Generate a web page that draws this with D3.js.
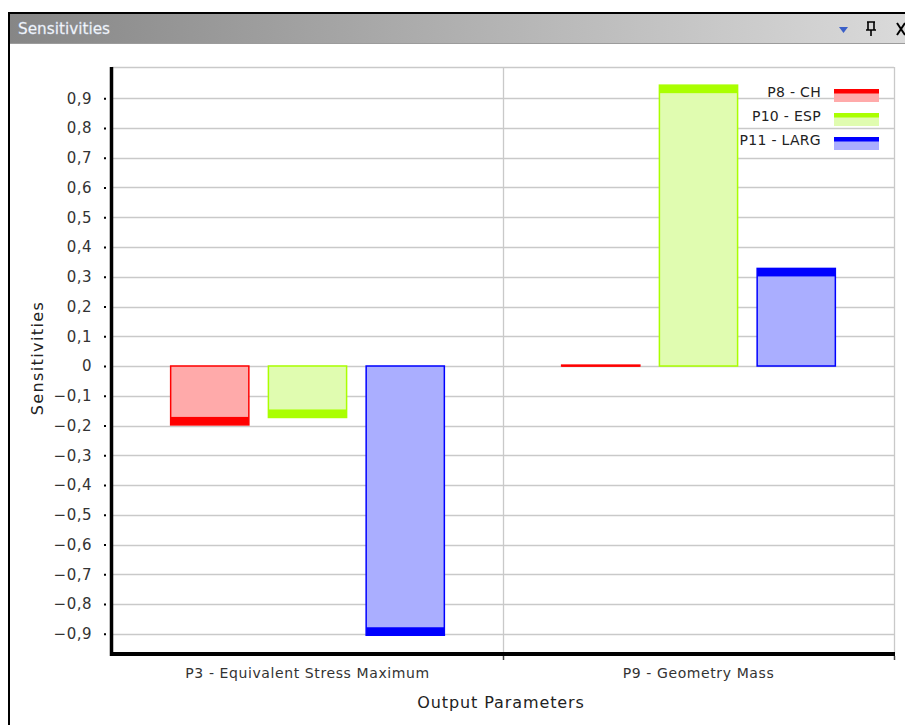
<!DOCTYPE html>
<html>
<head>
<meta charset="utf-8">
<script src="https://cdn.jsdelivr.net/npm/d3@7"></script>
<style>
  html, body { margin: 0; padding: 0; background: #fff; }
  svg { display: block; }
</style>
</head>
<body>
<script>
// ---- data ----
const categories = ["P3 - Equivalent Stress Maximum", "P9 - Geometry Mass"];
const seriesNames = ["P8 - CH", "P10 - ESP", "P11 - LARG"];
const valuesP8  = [-0.198, 0.003];
const valuesP10 = [-0.173, 0.944];
const valuesP11 = [-0.905, 0.328];
const yTickValues = [-0.9, -0.8, -0.7, -0.6, -0.5, -0.4, -0.3, -0.2, -0.1, 0, 0.1, 0.2, 0.3, 0.4, 0.5, 0.6, 0.7, 0.8, 0.9];
const panelTitle = "Sensitivities";
const yTitle = "Sensitivities";
const xTitle = "Output Parameters";

const seriesValues = [valuesP8, valuesP10, valuesP11];
const strokeColors = ["#ff0000", "#aaff00", "#0000ff"];
const fillColors = ["#ffaaaa", "#e0fcb0", "#aaaeff"];

const W = 905, H = 725;
const FONT = "'DejaVu Sans', sans-serif";
const svg = d3.select("body").append("svg").attr("width", W).attr("height", H);

// ---- panel frame & title bar ----
const defs = svg.append("defs");
const grad = defs.append("linearGradient").attr("id", "tb").attr("x1", "0").attr("x2", "1").attr("y1", "0").attr("y2", "0");
grad.append("stop").attr("offset", "0").attr("stop-color", "#868686");
grad.append("stop").attr("offset", "1").attr("stop-color", "#dadada");

svg.append("rect").attr("x", 10).attr("y", 14).attr("width", W - 10).attr("height", 29).attr("fill", "url(#tb)");
svg.append("line").attr("x1", 10).attr("x2", W).attr("y1", 43.5).attr("y2", 43.5).attr("stroke", "#9c9c9c").attr("stroke-width", 1);
svg.append("line").attr("x1", 8).attr("x2", W).attr("y1", 13).attr("y2", 13).attr("stroke", "#000").attr("stroke-width", 2);
svg.append("line").attr("x1", 9).attr("x2", 9).attr("y1", 12).attr("y2", H).attr("stroke", "#000").attr("stroke-width", 2);

svg.append("text").attr("x", 18).attr("y", 34).text(panelTitle)
  .attr("font-family", "'DejaVu Sans Condensed', 'DejaVu Sans', sans-serif").attr("font-size", 15)
  .attr("fill", "#ffffff").attr("stroke", "#c8d4e8").attr("stroke-width", 0.3)
  .attr("textLength", 92).attr("lengthAdjust", "spacingAndGlyphs");

// icons
svg.append("path").attr("d", "M839,27 L848,27 L843.5,33 Z").attr("fill", "#3a5fc8");
const pin = svg.append("g").attr("stroke", "#000").attr("fill", "none").attr("stroke-width", 1.6);
pin.append("path").attr("d", "M868,22 L868,30 M874,22 L874,30 M866,30 L876,30 M867,22 L875,22 M871,30 L871,36");
svg.append("path").attr("d", "M897,23 L905,35 M905,23 L897,35").attr("stroke", "#000").attr("stroke-width", 2);

// ---- chart area ----
const plotLeft = 112, plotRight = 894, plotTop = 67, plotBottom = 654;
const y = d3.scaleLinear().domain([-0.968, 1.005]).range([plotBottom, plotTop]);
const x0 = d3.scaleBand().domain(categories).range([plotLeft, plotRight]).padding(0);
const x1 = d3.scaleBand().domain(seriesNames).range([0, x0.bandwidth()]).paddingInner(0.2).paddingOuter(0.6);

// gridlines
const grid = svg.append("g");
grid.selectAll("line.h").data(yTickValues).join("line")
  .attr("x1", plotLeft).attr("x2", plotRight)
  .attr("y1", d => Math.round(y(d)) + 0.5).attr("y2", d => Math.round(y(d)) + 0.5)
  .attr("stroke", "#c9c9c9").attr("stroke-width", 1.3);
grid.append("line").attr("x1", plotLeft).attr("x2", plotRight).attr("y1", plotTop + 0.5).attr("y2", plotTop + 0.5)
  .attr("stroke", "#c9c9c9").attr("stroke-width", 1.3);
grid.append("line").attr("x1", plotRight + 0.5).attr("x2", plotRight + 0.5).attr("y1", plotTop).attr("y2", plotBottom)
  .attr("stroke", "#c9c9c9").attr("stroke-width", 1.3);
grid.selectAll("line.v").data(categories.slice(1)).join("line")
  .attr("x1", d => x0(d) + 0.5).attr("x2", d => x0(d) + 0.5)
  .attr("y1", plotTop).attr("y2", plotBottom)
  .attr("stroke", "#c9c9c9").attr("stroke-width", 1.3);

// bars
const barData = [];
categories.forEach((c, ci) => {
  seriesNames.forEach((s, si) => {
    barData.push({ cat: c, ser: s, si, v: seriesValues[si][ci] });
  });
});
const bars = svg.append("g");
barData.forEach(d => {
  const bx = x0(d.cat) + x1(d.ser);
  const bw = x1.bandwidth();
  const y0 = y(0), yv = y(d.v);
  const top = Math.min(y0, yv), h = Math.abs(yv - y0);
  bars.append("rect").attr("x", bx).attr("y", top).attr("width", bw).attr("height", h)
    .attr("fill", fillColors[d.si]).attr("stroke", strokeColors[d.si]).attr("stroke-width", 1.5);
  const band = Math.min(8, h);
  const by = d.v >= 0 ? yv : yv - band;
  bars.append("rect").attr("x", bx).attr("y", by).attr("width", bw).attr("height", Math.max(band, 1.5))
    .attr("fill", strokeColors[d.si]);
});

// axes
const yAxis = d3.axisLeft(y).tickValues(yTickValues).tickSize(2).tickPadding(12)
  .tickFormat(d => d3.format(".1~f")(d).replace(".", ","));
const gy = svg.append("g").attr("transform", `translate(${plotLeft - 6},0)`).call(yAxis);
gy.select(".domain").remove();
gy.selectAll(".tick line").attr("stroke", "#000").attr("stroke-width", 2);
gy.selectAll(".tick text").attr("font-family", FONT).attr("font-size", 15).attr("fill", "#333")
  .attr("letter-spacing", 0.5);

const xAxis = d3.axisBottom(x0).tickSize(0).tickPadding(14);
const gx = svg.append("g").attr("transform", `translate(0,${plotBottom})`).call(xAxis);
gx.select(".domain").remove();
gx.selectAll(".tick text").attr("font-family", FONT).attr("font-size", 14).attr("fill", "#333")
  .attr("letter-spacing", 0.6);
// small boundary ticks on x axis
svg.selectAll("line.xt").data(categories.slice(1).map(c => x0(c)).concat([plotRight])).join("line")
  .attr("x1", d => d + 0.5).attr("x2", d => d + 0.5).attr("y1", plotBottom + 2).attr("y2", plotBottom + 6)
  .attr("stroke", "#444").attr("stroke-width", 1.5);

// thick axis lines
svg.append("line").attr("x1", plotLeft - 0.5).attr("x2", plotLeft - 0.5).attr("y1", plotTop).attr("y2", plotBottom + 2)
  .attr("stroke", "#000").attr("stroke-width", 3.5);
svg.append("line").attr("x1", plotLeft - 2).attr("x2", plotRight + 1).attr("y1", plotBottom).attr("y2", plotBottom)
  .attr("stroke", "#000").attr("stroke-width", 4);

// axis titles
svg.append("text").attr("transform", "translate(43,358) rotate(-90)").attr("text-anchor", "middle")
  .attr("font-family", FONT).attr("font-size", 16).attr("letter-spacing", 1.4).attr("fill", "#222").text(yTitle);
svg.append("text").attr("x", 501).attr("y", 708).attr("text-anchor", "middle")
  .attr("font-family", FONT).attr("font-size", 16).attr("letter-spacing", 0.9).attr("fill", "#222").text(xTitle);

// legend
const legend = svg.append("g");
seriesNames.forEach((s, i) => {
  const cy = 92 + i * 24;
  legend.append("text").attr("x", 821).attr("y", cy).attr("dy", "0.35em").attr("text-anchor", "end")
    .attr("font-family", FONT).attr("font-size", 14).attr("letter-spacing", 0.3).attr("fill", "#222").text(s);
  legend.append("rect").attr("x", 834).attr("y", cy - 3).attr("width", 45).attr("height", 13).attr("fill", fillColors[i]);
  legend.append("rect").attr("x", 834).attr("y", cy - 3).attr("width", 45).attr("height", 4.5).attr("fill", strokeColors[i]);
});
</script>
</body>
</html>
